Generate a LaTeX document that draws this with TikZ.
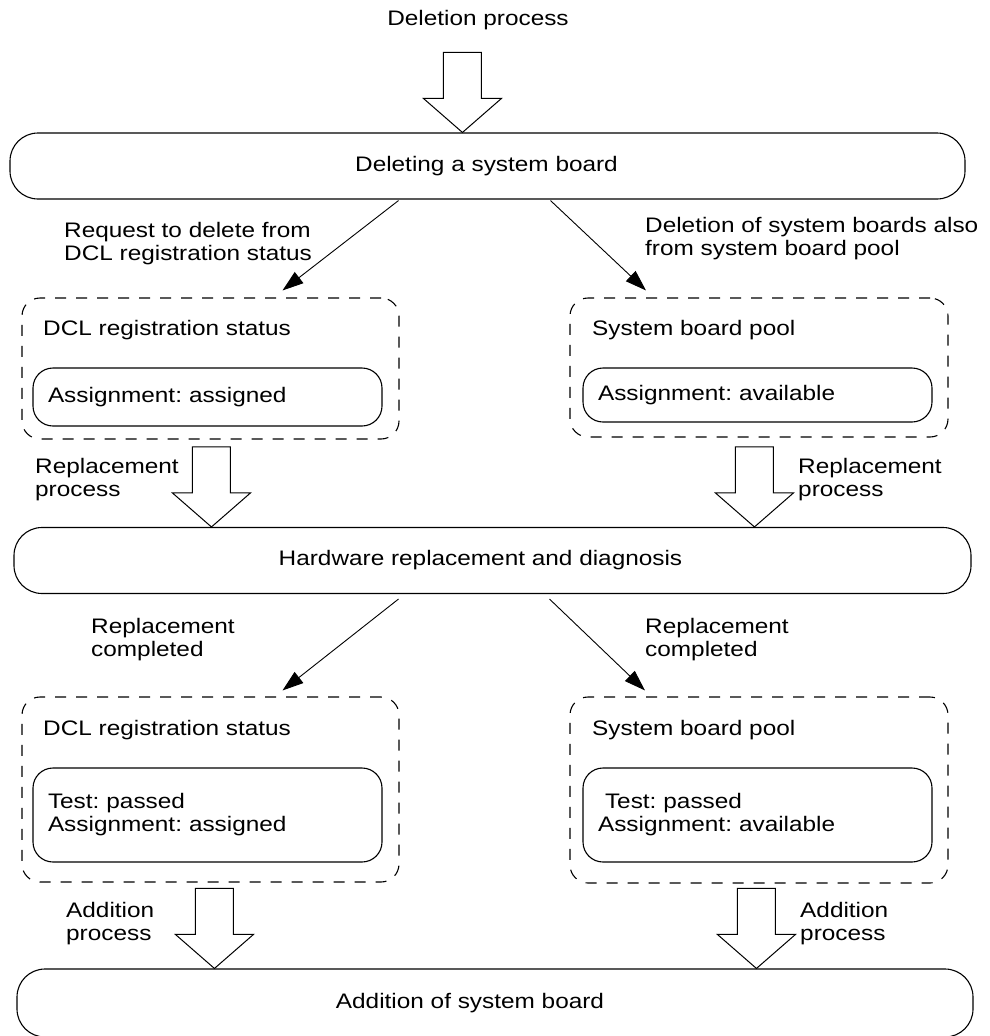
\documentclass[tikz,border=0pt]{standalone}
\usepackage{fontspec}
\setmainfont[FakeStretch=1.16]{Liberation Sans}
\usetikzlibrary{arrows.meta}
\frenchspacing
\tikzstyle{every node}=[font=\fontsize{21}{23}\selectfont,inner sep=0pt]
\tikzstyle{stage}=[draw,line width=1.1pt,rounded corners=28pt,minimum height=66pt]
\tikzstyle{store}=[draw,line width=1.1pt,dash pattern=on 11pt off 10pt,rounded corners=18pt]
\tikzstyle{status}=[draw,line width=1.1pt,rounded corners=20pt,minimum width=349pt,
  inner xsep=15pt,text width=319pt,align=left]
\tikzstyle{note}=[anchor=west,align=left]
\tikzstyle{link}=[line width=0.9pt,-{Triangle[length=21pt,width=14pt]}]
\tikzstyle{hollow}=[draw,line width=1pt,fill=white]
\newcommand{\hollowarrow}[1]{%
  \draw[hollow] (#1) -- ++(-39,-34) -- ++(20,0) -- ++(0,-46) -- ++(38,0)
    -- ++(0,46) -- ++(20,0) -- cycle;}

\begin{document}
\begin{tikzpicture}[x=1pt,y=-1pt]
\useasboundingbox (0,0) rectangle (989,1036);

\node (start) at (478,20) {Deletion process};

\node [stage,minimum width=955pt,label={[xshift=-1pt]center:Deleting a system board}] (del) at (487.5,166) {};
\node [stage,minimum width=957pt,label={[xshift=-12pt]center:Hardware replacement and diagnosis}] (hw) at (492.5,560.5) {};
\node [stage,minimum width=956pt,minimum height=68pt,label={[xshift=-25pt]center:Addition of system board}] (add) at (495,1003) {};

\node [store,minimum width=377pt,minimum height=141pt] (dclA) at (210.5,368.5) {};
\node [store,minimum width=378pt,minimum height=139pt] (poolA) at (759,367.5) {};
\node [store,minimum width=377pt,minimum height=185pt] (dclB) at (210.5,789.5) {};
\node [store,minimum width=378pt,minimum height=186pt] (poolB) at (759,790) {};

\node [note] (dclAtitle) at (43,330) {DCL registration status};
\node [note] (poolAtitle) at (592,330) {System board pool};
\node [note] (dclBtitle) at (43,730) {DCL registration status};
\node [note] (poolBtitle) at (592,730) {System board pool};

\node [status,minimum height=58pt] (asgA) at (207.5,397) {Assignment: assigned};
\node [status,minimum height=54pt] (avlA) at (757.5,395) {Assignment: available};
\node [status,minimum height=94pt] (asgB) at (207.5,815) {Test: passed\\Assignment: assigned\\[14pt]};
\node [status,minimum height=94pt] (avlB) at (757.5,815) {~Test: passed\\Assignment: available\\[14pt]};

\hollowarrow{[xshift=453pt]del.north west}
\hollowarrow{[xshift=198pt]hw.north west}
\hollowarrow{[xshift=741pt]hw.north west}
\hollowarrow{[xshift=198pt]add.north west}
\hollowarrow{[xshift=740pt]add.north west}

\draw [link] ([xshift=-89pt,yshift=-1pt]del.south) -- ([xshift=72pt,yshift=7pt]dclA.north);
\draw [link] ([xshift=63pt,yshift=-1pt]del.south) -- ([xshift=-113pt,yshift=7pt]poolA.north);
\draw [link] ([xshift=-94pt,yshift=-5pt]hw.south) -- ([xshift=72pt,yshift=6pt]dclB.north);
\draw [link] ([xshift=57pt,yshift=-5pt]hw.south) -- ([xshift=-114pt,yshift=6pt]poolB.north);

\node [note] (reqlabel) at (64,243.5) {Request to delete from\\DCL registration status};
\node [note] (alsolabel) at (645,238.5) {Deletion of system boards also\\from system board pool};
\node [note] (replA) at (35,479.5) {Replacement\\process};
\node [note] (replB) at (798,479.5) {Replacement\\process};
\node [note] (doneA) at (91,639.5) {Replacement\\completed};
\node [note] (doneB) at (645,639.5) {Replacement\\completed};
\node [note] (addA) at (66,923.5) {Addition\\process};
\node [note] (addB) at (800,923.5) {Addition\\process};
\end{tikzpicture}
\end{document}
